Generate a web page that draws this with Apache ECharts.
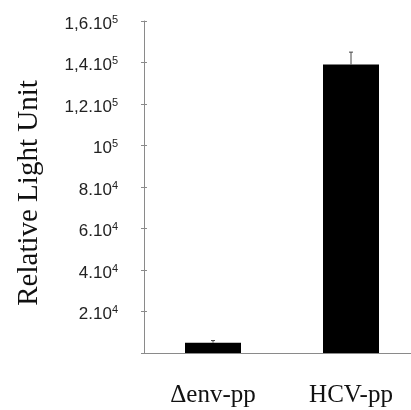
<!DOCTYPE html>
<html>
<head>
<meta charset="utf-8">
<script src="https://cdn.jsdelivr.net/npm/echarts@6/dist/echarts.min.js"></script>
<style>html,body{margin:0;padding:0;background:#fff}#c{width:411px;height:410px}</style>
</head>
<body>
<div id="c"></div>
<script>
var categories = ['\u0394env-pp', 'HCV-pp'];
var values = [5000, 139000];
var errors = [1000, 6000];
var tickValues = [0, 20000, 40000, 60000, 80000, 100000, 120000, 140000, 160000];
var tickBase = ['', '2.10', '4.10', '6.10', '8.10', '10', '1,2.10', '1,4.10', '1,6.10'];
var tickExp = ['', '4', '4', '4', '4', '5', '5', '5', '5'];
var yTitle = 'Relative Light Unit';

var chart = echarts.init(document.getElementById('c'), null, {renderer: 'canvas'});
var axisGrey = '#8a8a8a';
function fmt(v) {
  var i = tickValues.indexOf(v);
  if (i < 0 || !tickBase[i]) return '';
  return '{b|' + tickBase[i] + '}{s|' + tickExp[i] + '}';
}
var option = {
  animation: false,
  grid: {left: 144, top: 21, width: 276, height: 332, outerBoundsMode: 'none', containLabel: false},
  xAxis: [{
    type: 'category', data: categories, position: 'bottom',
    axisLine: {lineStyle: {color: axisGrey, width: 1}},
    axisTick: {length: 3, lineStyle: {color: axisGrey}},
    axisLabel: {margin: 30, fontFamily: 'Liberation Serif', fontSize: 25, color: '#111'}
  }, {
    type: 'category', data: categories, position: 'top',
    axisLine: {show: true, lineStyle: {color: axisGrey, width: 1}},
    axisTick: {show: false}, axisLabel: {show: false}
  }],
  yAxis: [{
    type: 'value', min: 0, max: 160000, interval: 20000,
    name: yTitle, nameLocation: 'middle', nameGap: 100,
    nameTextStyle: {fontFamily: 'Liberation Serif', fontSize: 29, color: '#111', padding: [0, 12, 0, 0]},
    axisLine: {show: true, lineStyle: {color: axisGrey, width: 1}},
    axisTick: {show: true, length: 3, lineStyle: {color: axisGrey}},
    splitLine: {show: false},
    axisLabel: {
      margin: 26, padding: [6, 0, 0, 0],
      formatter: fmt,
      rich: {
        b: {fontFamily: 'Liberation Sans', fontSize: 17, color: '#222', lineHeight: 20},
        s: {fontFamily: 'Liberation Sans', fontSize: 11, color: '#222', lineHeight: 14, verticalAlign: 'top'}
      }
    }
  }, {
    type: 'value', min: 0, max: 160000, interval: 20000, position: 'left',
    axisLine: {show: false},
    axisTick: {show: true, inside: true, length: 3, lineStyle: {color: axisGrey}},
    axisLabel: {show: false}, splitLine: {show: false}
  }],
  series: [{
    type: 'bar', data: values, barWidth: 56, itemStyle: {color: '#000'}
  }, {
    type: 'custom',
    data: values.map(function (v, i) { return [i, v, v + errors[i]]; }),
    renderItem: function (params, api) {
      var p0 = api.coord([api.value(0), api.value(1)]);
      var p1 = api.coord([api.value(0), api.value(2)]);
      var st = {stroke: '#444', lineWidth: 1};
      return {type: 'group', children: [
        {type: 'line', shape: {x1: p0[0], y1: p0[1], x2: p1[0], y2: p1[1]}, style: st},
        {type: 'line', shape: {x1: p1[0] - 2, y1: p1[1], x2: p1[0] + 2, y2: p1[1]}, style: st}
      ]};
    },
    z: 5
  }]
};
chart.setOption(option);
</script>
</body>
</html>
